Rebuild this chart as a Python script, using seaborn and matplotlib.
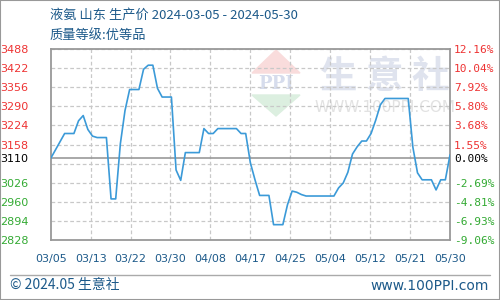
import matplotlib
matplotlib.use("Agg")
import matplotlib.pyplot as plt
import matplotlib.patches as mpatches
import numpy as np
import pandas as pd
import seaborn as sns

# ---- data ----
dates = ["2024-03-05", "2024-03-08", "2024-03-10", "2024-03-11", "2024-03-12", "2024-03-13",
         "2024-03-14", "2024-03-15", "2024-03-17", "2024-03-18", "2024-03-19", "2024-03-20",
         "2024-03-21", "2024-03-22", "2024-03-24", "2024-03-25", "2024-03-26", "2024-03-27",
         "2024-03-28", "2024-03-29", "2024-03-31", "2024-04-01", "2024-04-02", "2024-04-03",
         "2024-04-06", "2024-04-07", "2024-04-08", "2024-04-09", "2024-04-10", "2024-04-14",
         "2024-04-15", "2024-04-16", "2024-04-17", "2024-04-18", "2024-04-19", "2024-04-21",
         "2024-04-22", "2024-04-24", "2024-04-25", "2024-04-26", "2024-04-27", "2024-04-28",
         "2024-04-29", "2024-05-05", "2024-05-06", "2024-05-07", "2024-05-08", "2024-05-09",
         "2024-05-10", "2024-05-11", "2024-05-12", "2024-05-13", "2024-05-14", "2024-05-15",
         "2024-05-16", "2024-05-21", "2024-05-22", "2024-05-23", "2024-05-24", "2024-05-26",
         "2024-05-27", "2024-05-28", "2024-05-29", "2024-05-30"]
prices = [3110, 3196, 3196, 3240, 3258, 3210,
          3187, 3182, 3182, 2970, 2970, 3160,
          3275, 3348, 3348, 3418, 3432, 3432,
          3352, 3322, 3322, 3070, 3034, 3130,
          3130, 3213, 3196, 3196, 3213, 3213,
          3196, 3196, 3095, 3036, 2982, 2982,
          2881, 2881, 2950, 2997, 2993, 2985,
          2980, 2980, 3008, 3025, 3062, 3125,
          3150, 3170, 3170, 3196, 3242, 3295,
          3317, 3317, 3149, 3060, 3036, 3036,
          3001, 3036, 3036, 3122]
base_price = 3110
x_labels = ["03/05", "03/13", "03/22", "03/30", "04/08", "04/17",
            "04/25", "05/04", "05/12", "05/21", "05/30"]
left_ticks = [2828, 2894, 2960, 3026, 3092, 3110, 3158, 3224, 3290, 3356, 3422, 3488]
left_labels = ["2828", "2894", "2960", "3026", "", "3110", "3158", "3224", "3290",
               "3356", "3422", "3488"]
right_labels = ["-9.06%", "-6.93%", "-4.81%", "-2.69%", "", "0.00%", "1.55%", "3.68%",
                "5.80%", "7.92%", "10.04%", "12.16%"]

# ---- build frame ----
start = pd.Timestamp(dates[0])
df = pd.DataFrame({"date": pd.to_datetime(dates), "price": prices})
df["day"] = (df["date"] - start).dt.days
ndays = int(df["day"].max())

sns.set_theme(style="white")
plt.rcParams["font.family"] = ["Noto Sans CJK SC", "DejaVu Sans"]

W, H = 500, 300
fig = plt.figure(figsize=(W / 100, H / 100), dpi=100)
fig.patch.set_facecolor("white")

L, R, T, B = 50.7, 450.0, 49.0, 240.0
ax = fig.add_axes([L / W, 1 - B / H, (R - L) / W, (B - T) / H])
ax.set_facecolor("none")

ymin, ymax = 2828, 3488
ax.set_xlim(0, ndays)
ax.set_ylim(ymin, ymax)

grid_c = "#c8c8c8"
for t in left_ticks:
    if t == base_price:
        continue
    ax.axhline(t, color=grid_c, lw=0.9, ls=(0, (3, 2)), zorder=1)
xt = np.linspace(0, ndays, len(x_labels))
for v in xt[1:-1]:
    ax.axvline(v, color=grid_c, lw=0.9, ls=(0, (3, 2)), zorder=1)
ax.axhline(base_price, color="#999999", lw=1.2, zorder=2)

# watermark
wm_blue = "#dfe3ee"
fig.patches.append(mpatches.Polygon([[252 / W, 1 - 73 / H], [276 / W, 1 - 50 / H], [300 / W, 1 - 73 / H]],
                                    closed=True, transform=fig.transFigure, color="#f9dcdc", zorder=-1))
fig.patches.append(mpatches.Polygon([[252 / W, 1 - 95 / H], [276 / W, 1 - 116 / H], [300 / W, 1 - 95 / H]],
                                    closed=True, transform=fig.transFigure, color="#dcefe0", zorder=-1))
fig.text(276 / W, 1 - 84 / H, "PPI", ha="center", va="center", fontsize=13, color="#d6dcec",
         fontweight="bold", family="DejaVu Serif", zorder=-1)
fig.text(385 / W, 1 - 76 / H, "生 意 社", ha="center", va="center", fontsize=27, color=wm_blue,
         fontweight="bold", zorder=-1)
fig.text(385 / W, 1 - 107 / H, "WWW.100PPI.COM", ha="center", va="center", fontsize=11,
         color="#e2e2e2", family="DejaVu Sans", zorder=-1)

sns.lineplot(data=df, x="day", y="price", ax=ax, color="#3b9ad8", lw=1.2, zorder=3)

for s in ax.spines.values():
    s.set_color("#999999")
    s.set_linewidth(1.3)

ax.set_xlabel("")
ax.set_ylabel("")
ax.set_xticks(xt)
ax.set_xticklabels(x_labels, fontsize=8, color="#1d5a8a", family="DejaVu Sans")
ax.tick_params(axis="x", length=0, pad=10)

ax.set_yticks(left_ticks)
ax.set_yticklabels(left_labels, fontsize=8, family="DejaVu Sans")
ax.tick_params(axis="y", length=0, pad=16)

def col(t):
    if t > base_price:
        return "#ee3333"
    if t < base_price:
        return "#33aa33"
    return "#000000"

for lab, t in zip(ax.get_yticklabels(), left_ticks):
    lab.set_color(col(t))

ax2 = ax.twinx()
ax2.set_facecolor("none")
ax2.set_ylim(ymin, ymax)
ax2.set_yticks(left_ticks)
ax2.set_yticklabels(right_labels, fontsize=8, family="DejaVu Sans Mono")
ax2.tick_params(axis="y", length=0, pad=3)
for lab, t in zip(ax2.get_yticklabels(), left_ticks):
    lab.set_color(col(t))
for s in ax2.spines.values():
    s.set_visible(False)
ax2.grid(False)
ax.grid(False)

title_c = "#1d5a8a"
fig.text(50 / W, 1 - 15 / H, "液氨 山东 生产价 2024-03-05 - 2024-05-30", fontsize=9.5,
         color=title_c, va="center", ha="left")
fig.text(50 / W, 1 - 35 / H, "质量等级:优等品", fontsize=9.5, color=title_c, va="center", ha="left")

# footer
fig.add_artist(plt.Line2D([10 / W, 490 / W], [1 - 275 / H, 1 - 275 / H], transform=fig.transFigure,
                          color="#aaaaaa", lw=1))
fig.text(10 / W, 1 - 285.5 / H, "© 2024.05 生意社", fontsize=10, color=title_c, va="center", ha="left")
fig.text(489 / W, 1 - 285.5 / H, "www.100PPI.com", fontsize=10, color=title_c, va="center", ha="right",
         family="DejaVu Sans")

# outer frame
fig.patches.append(mpatches.Rectangle((0, 0), 1, 1, transform=fig.transFigure, fill=False,
                                      edgecolor="#999999", lw=1.5, zorder=10))

fig.savefig("out.png", dpi=100)
